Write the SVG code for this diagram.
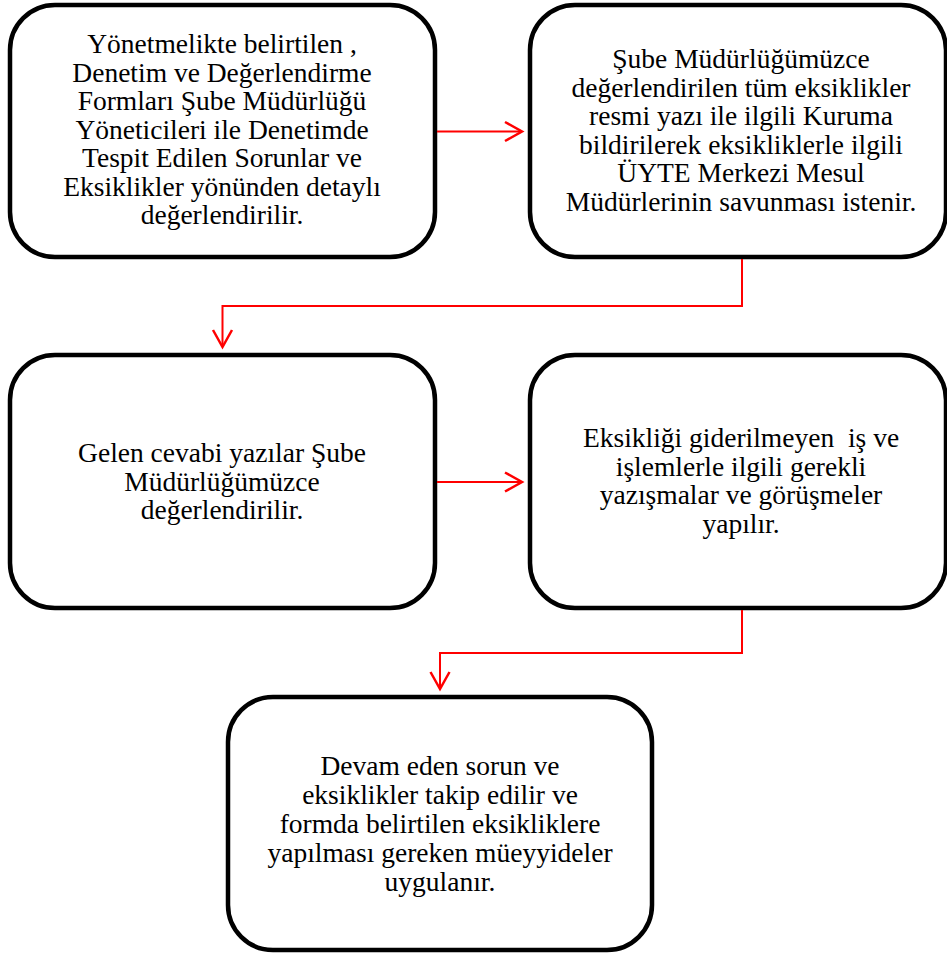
<svg xmlns="http://www.w3.org/2000/svg" width="947" height="953" viewBox="0 0 947 953">
<style>
.box{fill:#fff;stroke:#000;stroke-width:4.5}
.t{font-family:"Liberation Serif","Times New Roman",serif;font-size:27.5px;fill:#000;text-anchor:middle}
.c{fill:none;stroke:#ff0000;stroke-width:2}
.h{fill:none;stroke:#ff0000;stroke-width:2.5}
</style>
<rect width="947" height="953" fill="#fff"/>
<g id="n1"><rect class="box" x="10" y="5" width="425" height="252" rx="45"/>
<text class="t" x="222" y="53">Yönetmelikte belirtilen ,</text>
<text class="t" x="222" y="81.5">Denetim ve Değerlendirme</text>
<text class="t" x="222" y="110">Formları Şube Müdürlüğü</text>
<text class="t" x="222" y="138.5">Yöneticileri ile Denetimde</text>
<text class="t" x="222" y="167">Tespit Edilen Sorunlar ve</text>
<text class="t" x="222" y="195.5">Eksiklikler yönünden detaylı</text>
<text class="t" x="222" y="224">değerlendirilir.</text></g>
<g id="n2"><rect class="box" x="530" y="5" width="416" height="252" rx="45"/>
<text class="t" x="741" y="68">Şube Müdürlüğümüzce</text>
<text class="t" x="741" y="96.5">değerlendirilen tüm eksiklikler</text>
<text class="t" x="741" y="125">resmi yazı ile ilgili Kuruma</text>
<text class="t" x="741" y="153.5">bildirilerek eksikliklerle ilgili</text>
<text class="t" x="741" y="182">ÜYTE Merkezi Mesul</text>
<text class="t" x="741" y="210.5">Müdürlerinin savunması istenir.</text></g>
<g id="n3"><rect class="box" x="10" y="355" width="425" height="253" rx="45"/>
<text class="t" x="222" y="462">Gelen cevabi yazılar Şube</text>
<text class="t" x="222" y="490.5">Müdürlüğümüzce</text>
<text class="t" x="222" y="519">değerlendirilir.</text></g>
<g id="n4"><rect class="box" x="530" y="355" width="416" height="253" rx="45"/>
<text class="t" x="741" y="447" xml:space="preserve">Eksikliği giderilmeyen  iş ve</text>
<text class="t" x="741" y="475.5">işlemlerle ilgili gerekli</text>
<text class="t" x="741" y="504">yazışmalar ve görüşmeler</text>
<text class="t" x="741" y="532.5">yapılır.</text></g>
<g id="n5"><rect class="box" x="228" y="697" width="424" height="253" rx="45"/>
<text class="t" x="440" y="775">Devam eden sorun ve</text>
<text class="t" x="440" y="804">eksiklikler takip edilir ve</text>
<text class="t" x="440" y="833">formda belirtilen eksikliklere</text>
<text class="t" x="440" y="862">yapılması gereken müeyyideler</text>
<text class="t" x="440" y="891">uygulanır.</text></g>
<g id="connectors">
<path class="c" d="M437 131.5H522"/><path class="h" d="M505 122L522 131.5L505 141"/>
<path class="c" d="M742 259V306H222.5V347"/><path class="h" d="M213 330L222.5 347L232 330"/>
<path class="c" d="M437 482H522"/><path class="h" d="M505 472.5L522 482L505 491.5"/>
<path class="c" d="M742 610V653H440V689"/><path class="h" d="M430.5 672L440 689L449.5 672"/>
</g>
</svg>
